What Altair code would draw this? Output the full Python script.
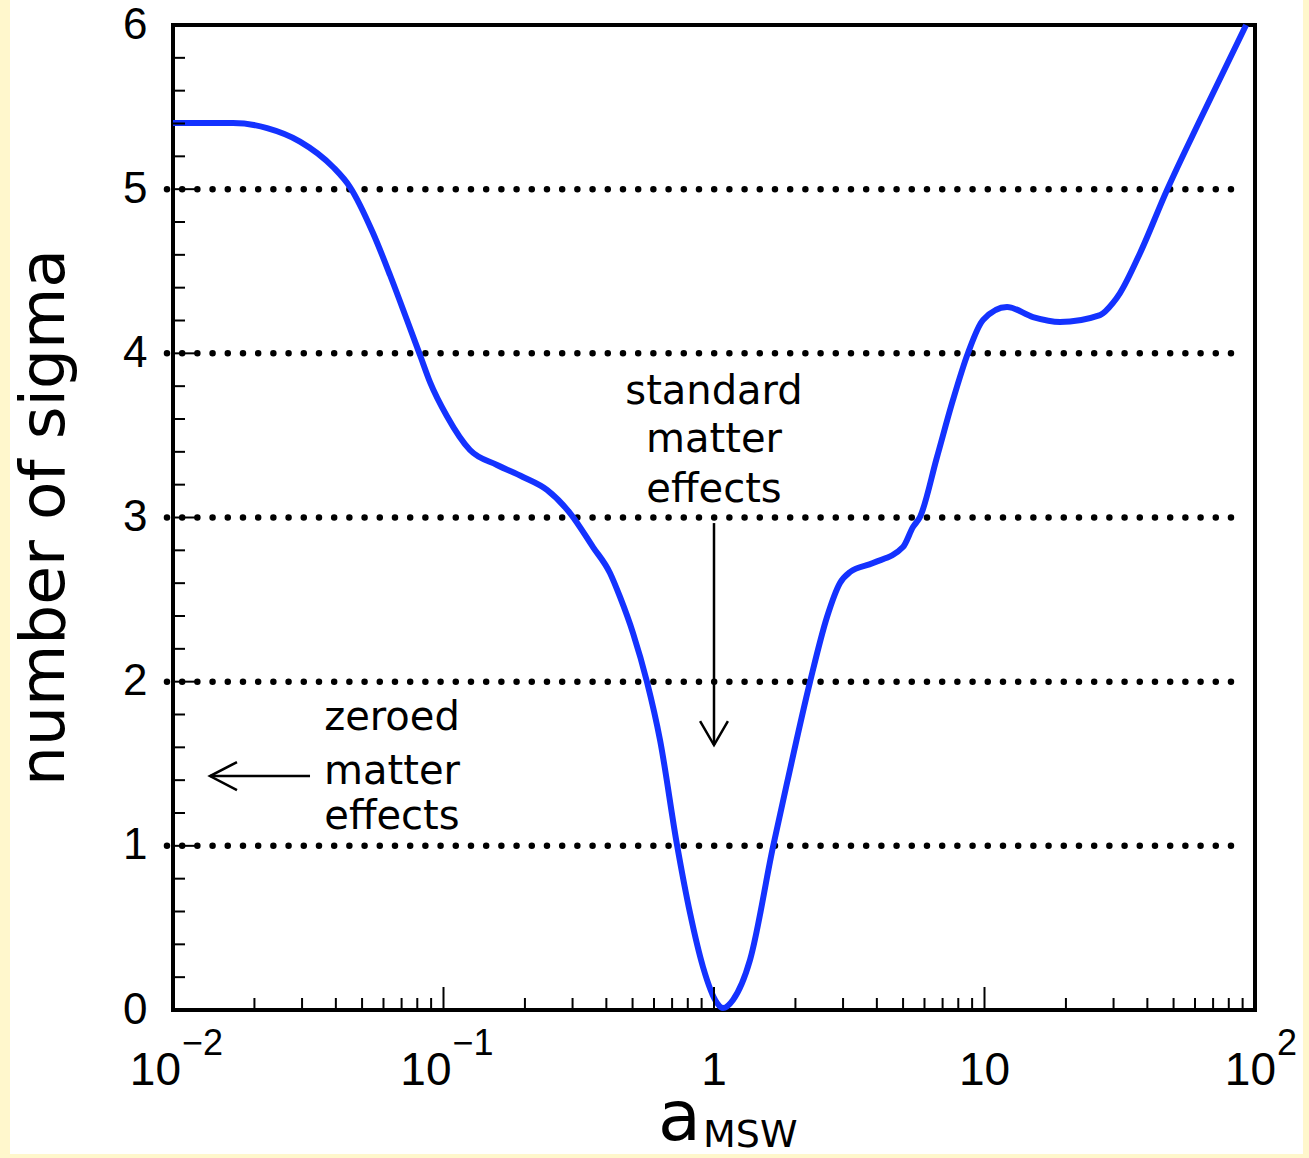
import altair as alt
import pandas as pd

# ---------------- data ----------------
a_msw = [0.0100, 0.01667, 0.02228, 0.02947, 0.03904, 0.04511, 0.05487, 0.06342,
         0.07328, 0.08186, 0.08915, 0.1030, 0.1253, 0.1577, 0.1967, 0.2413,
         0.2935, 0.3570, 0.4125, 0.4493, 0.5019, 0.5654, 0.6316, 0.7300,
         0.8153, 0.9106, 1.0259, 1.0796, 1.1755, 1.3589, 1.6522, 1.8619,
         2.2641, 2.6168, 2.9227, 3.1838, 3.8713, 4.9957, 5.4400, 5.7749,
         6.6730, 7.6464, 8.6896, 9.8741, 12.113, 15.112, 19.013, 26.731,
         29.854, 31.689, 37.57, 47.29, 62.62, 92.7]
n_sigma = [5.403, 5.403, 5.372, 5.290, 5.135, 5.013, 4.733, 4.477,
           4.203, 3.990, 3.825, 3.617, 3.411, 3.320, 3.247, 3.168,
           3.027, 2.820, 2.662, 2.516, 2.296, 1.998, 1.645, 1.005,
           0.591, 0.262, 0.043, 0.012, 0.061, 0.305, 0.993, 1.383,
           1.998, 2.394, 2.601, 2.668, 2.723, 2.820, 2.942, 3.003,
           3.368, 3.716, 4.002, 4.203, 4.282, 4.221, 4.191, 4.233,
           4.307, 4.367, 4.610, 4.995, 5.421, 6.0]

sigma_levels = [1, 2, 3, 4, 5]
level_x_start = [0.0095] * 5
level_x_end = [90.6] * 5
x_major_ticks = [0.01, 0.1, 1, 10, 100]
x_minor_ticks = [m * 10.0 ** k for k in (-2, -1, 0, 1) for m in range(2, 10)]
y_major_ticks = [1, 2, 3, 4, 5]
y_minor_ticks = [round(i * 0.2, 1) for i in range(1, 30) if i % 5 != 0]
y_tick_labels = [0, 1, 2, 3, 4, 5, 6]

neg_pow_pos = [0.01, 0.1]
neg_pow_exp = ["\u22122", "\u22121"]
pos_pow_pos = [100]
pos_pow_exp = ["2"]
plain_label_pos = [1, 10]
plain_label_text = ["1", "10"]

std_text = ["standard", "matter", "effects"]
std_text_x = [1, 1, 1]
std_text_y = [3.764, 3.472, 3.167]
zero_text = ["zeroed", "matter", "effects"]
zero_text_x = [0.0645, 0.0645, 0.0645]
zero_text_y = [1.779, 1.450, 1.176]

std_arrow = {"x": [1.0], "y_from": [2.966], "y_to": [1.614]}
zero_arrow = {"x_from": [0.0321], "x_to": [0.0137], "y": [1.425]}

W, H = 1082, 985
FONT_ANN = "DejaVu Sans"
FONT_NUM = "Liberation Sans"
BLUE = "#1432FF"
YELLOW = "#FFF7CC"

xscale = alt.Scale(type="log", domain=[0.01, 100], nice=False)
yscale = alt.Scale(domain=[0, 6], nice=False)
yaxis = alt.Axis(values=y_tick_labels, format="d", labelFontSize=44,
                 labelFont=FONT_NUM, labelColor="black", labelPadding=26,
                 ticks=False, domain=False, grid=False, title=None)


def X(field):
    return alt.X(field, type="quantitative", scale=xscale, axis=None, title=None)


def Y(field):
    return alt.Y(field, type="quantitative", scale=yscale, axis=yaxis, title=None)


curve_df = pd.DataFrame({"a": a_msw, "s": n_sigma})
levels_df = pd.DataFrame({"lvl": sigma_levels, "x0": level_x_start, "x1": level_x_end})

dotted = alt.Chart(levels_df).mark_rule(
    color="black", strokeWidth=6.5, strokeCap="round", strokeDash=[0, 15.2]
).encode(x=X("x0"), x2="x1:Q", y=Y("lvl"))

curve = alt.Chart(curve_df).mark_line(
    color=BLUE, strokeWidth=6, interpolate="monotone"
).encode(x=X("a"), y=Y("s"))

xmin = alt.Chart(pd.DataFrame({"t": x_minor_ticks})).mark_rule(
    color="black", strokeWidth=2).encode(
    x=X("t"), y=alt.value(H), y2=alt.value(H - 12))
xmaj = alt.Chart(pd.DataFrame({"t": x_major_ticks})).mark_rule(
    color="black", strokeWidth=2).encode(
    x=X("t"), y=alt.value(H), y2=alt.value(H - 23))
ymin = alt.Chart(pd.DataFrame({"t": y_minor_ticks})).mark_rule(
    color="black", strokeWidth=2).encode(
    y=Y("t"), x=alt.value(0), x2=alt.value(12))
ymaj = alt.Chart(pd.DataFrame({"t": y_major_ticks})).mark_rule(
    color="black", strokeWidth=2).encode(
    y=Y("t"), x=alt.value(0), x2=alt.value(24))


def pow_layers(pos, exp, dx_base, dx_exp):
    df = pd.DataFrame({"x": pos, "b": ["10"] * len(pos), "e": exp})
    base = alt.Chart(df).mark_text(
        font=FONT_NUM, fontSize=46, align="right", baseline="alphabetic",
        dx=dx_base, color="black").encode(x=X("x"), y=alt.value(H + 75), text="b:N")
    sup = alt.Chart(df).mark_text(
        font=FONT_NUM, fontSize=36, align="left", baseline="alphabetic",
        dx=dx_exp, color="black").encode(x=X("x"), y=alt.value(H + 45), text="e:N")
    return [base, sup]


neg_layers = pow_layers(neg_pow_pos, neg_pow_exp, 8, 9)
pos_layers = pow_layers(pos_pow_pos, pos_pow_exp, 21, 22)

plain_df = pd.DataFrame({"x": plain_label_pos, "t": plain_label_text})
plain = alt.Chart(plain_df).mark_text(
    font=FONT_NUM, fontSize=46, align="center", baseline="alphabetic",
    color="black").encode(x=X("x"), y=alt.value(H + 75), text="t:N")

std_df = pd.DataFrame({"x": std_text_x, "y": std_text_y, "t": std_text})
std_lbl = alt.Chart(std_df).mark_text(
    font=FONT_ANN, fontSize=40, align="center", baseline="middle",
    color="black").encode(x=X("x"), y=Y("y"), text="t:N")
zero_df = pd.DataFrame({"x": zero_text_x, "y": zero_text_y, "t": zero_text})
zero_lbl = alt.Chart(zero_df).mark_text(
    font=FONT_ANN, fontSize=40, align="center", baseline="middle",
    color="black").encode(x=X("x"), y=Y("y"), text="t:N")

arr1 = alt.Chart(pd.DataFrame(std_arrow)).mark_rule(
    color="black", strokeWidth=2.5).encode(
    x=X("x"), y=Y("y_from"), y2="y_to:Q")
head1 = alt.Chart(pd.DataFrame(std_arrow)).mark_point(
    shape="M -0.58 -1 L 0 0 L 0.58 -1", size=2304, filled=False,
    color="black", strokeWidth=2.5, opacity=1).encode(
    x=X("x"), y=Y("y_to"))
arr2 = alt.Chart(pd.DataFrame(zero_arrow)).mark_rule(
    color="black", strokeWidth=2.5).encode(
    x=X("x_from"), x2="x_to:Q", y=Y("y"))
head2 = alt.Chart(pd.DataFrame(zero_arrow)).mark_point(
    shape="M 1 -0.52 L 0 0 L 1 0.52", size=2916, filled=False,
    color="black", strokeWidth=2.5, opacity=1).encode(
    x=X("x_to"), y=Y("y"))

titles_df = pd.DataFrame({"t": ["number of sigma"]})
ytitle = alt.Chart(titles_df).mark_text(
    font=FONT_ANN, fontSize=63, angle=270,
    align="center", baseline="middle", color="black").encode(
    x=alt.value(-128), y=alt.value(H / 2), text="t:N")
xa_df = pd.DataFrame({"t": ["a"]})
xtitle_a = alt.Chart(xa_df).mark_text(
    font=FONT_ANN, fontSize=70, align="right", baseline="alphabetic",
    color="black").encode(x=alt.value(528), y=alt.value(1115), text="t:N")
xs_df = pd.DataFrame({"t": ["MSW"]})
xtitle_sub = alt.Chart(xs_df).mark_text(
    font=FONT_ANN, fontSize=38, align="left", baseline="alphabetic",
    color="black").encode(x=alt.value(530), y=alt.value(1122), text="t:N")

strip_df = pd.DataFrame({"k": [0]})
strip_l = alt.Chart(strip_df).mark_rect(color=YELLOW).encode(
    x=alt.value(-173), x2=alt.value(-163), y=alt.value(-25), y2=alt.value(1133))
strip_r = alt.Chart(strip_df).mark_rect(color=YELLOW).encode(
    x=alt.value(1130), x2=alt.value(1136), y=alt.value(-25), y2=alt.value(1133))
strip_b = alt.Chart(strip_df).mark_rect(color=YELLOW).encode(
    x=alt.value(-173), x2=alt.value(1136), y=alt.value(1129), y2=alt.value(1133))

chart = alt.layer(
    dotted, curve, xmin, xmaj, ymin, ymaj, *neg_layers, *pos_layers, plain,
    std_lbl, zero_lbl, arr1, head1, arr2, head2,
    ytitle, xtitle_a, xtitle_sub, strip_l, strip_r, strip_b
).properties(
    width=W, height=H,
    autosize=alt.AutoSizeParams(type="none"),
    padding={"left": 173, "top": 25, "right": 54, "bottom": 148},
    background="white",
).configure_view(
    stroke="black", strokeWidth=4, fill="white"
)

chart.save("out.html", embed_options={"renderer": "svg", "actions": False})
